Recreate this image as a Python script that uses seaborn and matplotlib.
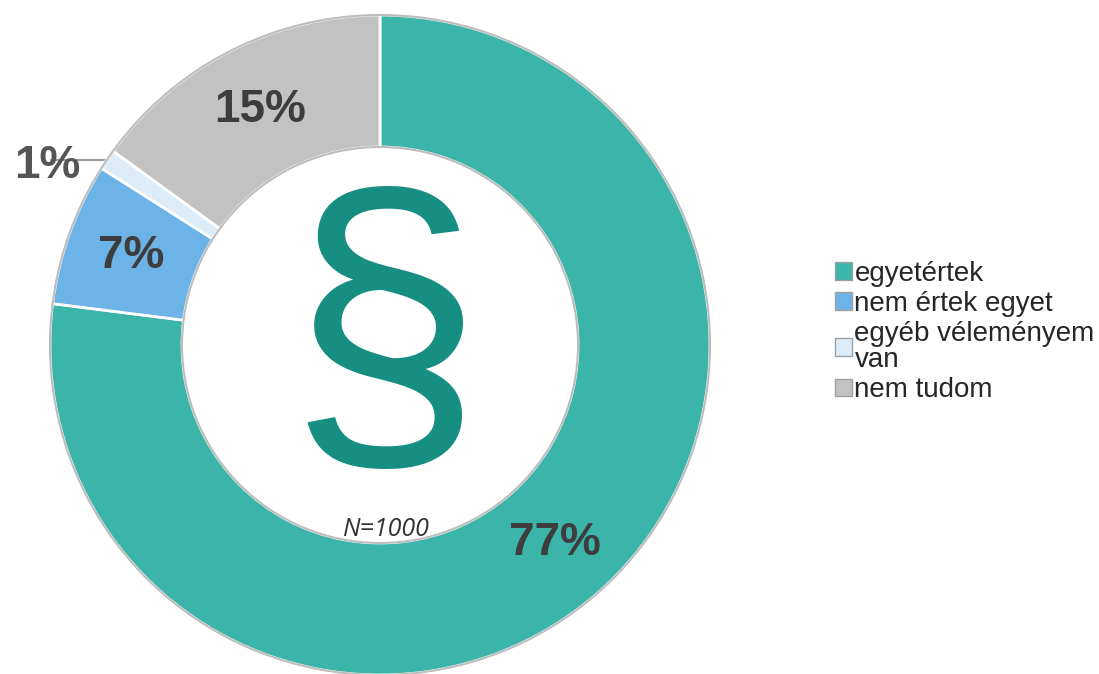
import matplotlib
matplotlib.use("Agg")
import matplotlib.pyplot as plt
import seaborn as sns
import numpy as np
from matplotlib.patches import Circle, Patch

categories = ["egyetértek", "nem értek egyet", "egyéb véleményem\nvan", "nem tudom"]
values = [77, 7, 1, 15]
colors = ["#3bb4a9", "#6cb3e8", "#dcecf8", "#c2c2c2"]
center_symbol = "§"
sample_note = "N=1000"

sns.set_theme(style="white")
plt.rcParams["font.family"] = ["Liberation Sans", "DejaVu Sans"]

fig = plt.figure(figsize=(10.99, 6.74), dpi=100)
# donut centre ~ (380, 345) px, radius ~ 330 px
ax = fig.add_axes([50 / 1099, -1 / 674, 660 / 1099, 660 / 674])

wedges, texts, autotexts = ax.pie(
    values, colors=colors, startangle=90, counterclock=False, radius=1,
    autopct="%d%%", pctdistance=0.8,
    wedgeprops=dict(width=0.4, edgecolor="white", linewidth=2),
    textprops=dict(fontsize=33, fontweight="bold", color="#3d3d3d"))
ax.set_xlim(-1, 1)
ax.set_ylim(-1, 1)
ax.set_aspect("equal")
ax.axis("off")

# small slice label sits outside with a leader line
small = 2
w = wedges[small]
mid = np.deg2rad((w.theta1 + w.theta2) / 2)
px, py = np.cos(mid), np.sin(mid)
autotexts[small].set_position((px - 0.08, py - 0.02))
autotexts[small].set_color("#555555")
autotexts[small].set_ha("right")
ax.plot([px - 0.17, px], [py, py], color="#9a9a9a", lw=1.5, zorder=0, clip_on=False)
autotexts[small].set_clip_on(False)

for r in (1.0, 0.6):
    ax.add_patch(Circle((0, 0), r, fill=False, edgecolor="#bdbdbd", lw=1.5, zorder=3, clip_on=False))

ax.text(0.015, -0.01, center_symbol, fontsize=252, color="#178e82",
        ha="center", va="center", family="Liberation Sans")
ax.text(0.02, -0.56, sample_note, fontsize=18, style="italic", color="#333333",
        ha="center", va="center", family="Open Sans")

handles = [Patch(facecolor=c, edgecolor="#a0a0a0", lw=1) for c in colors]
leg = fig.legend(handles, categories, loc="center left", bbox_to_anchor=(835 / 1099, 1 - 332 / 674),
                 frameon=False, fontsize=20, handlelength=0.6, handleheight=0.6,
                 handletextpad=0.1, labelspacing=0.15, borderpad=0, borderaxespad=0)
for t in leg.get_texts():
    t.set_linespacing(1.0)

fig.savefig("out.png", dpi=100)
